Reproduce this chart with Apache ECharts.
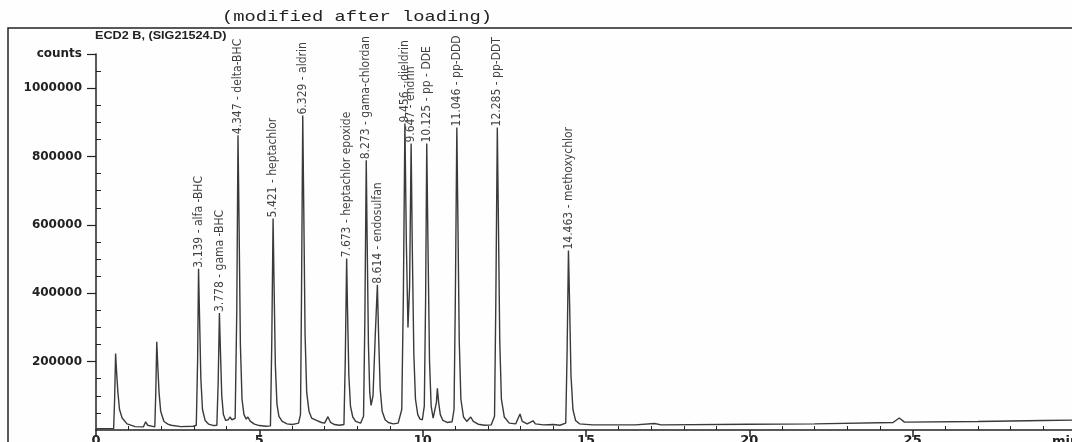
<!DOCTYPE html>
<html>
<head>
<meta charset="utf-8">
<title>ECD2 B chromatogram</title>
<script src="https://cdn.jsdelivr.net/npm/echarts@6/dist/echarts.min.js"></script>
<style>
  html, body { margin: 0; padding: 0; background: #fefefe; }
  #chart { width: 1072px; height: 442px; }
</style>
</head>
<body>
<div id="chart"></div>
<script>
// retention time (min) / counts
const trace = [
  [0, 4000], [0.54, 4000], [0.57, 90000], [0.6, 224000], [0.63, 170000], [0.67, 110000], [0.72, 60000],
  [0.8, 35000], [0.95, 18000], [1.2, 10000], [1.45, 9000], [1.52, 24000], [1.58, 14000], [1.8, 9000],
  [1.83, 110000], [1.86, 258000], [1.89, 190000], [1.93, 110000], [1.98, 55000], [2.08, 25000],
  [2.2, 17000], [2.24, 22000], [2.3, 14000], [2.6, 10000], [2.98, 11000], [3.07, 14000],
  [3.11, 200000], [3.139, 472000], [3.17, 330000], [3.21, 150000], [3.26, 60000], [3.34, 28000],
  [3.45, 17000], [3.6, 13000], [3.7, 14000], [3.74, 140000], [3.778, 342000], [3.81, 230000],
  [3.85, 100000], [3.9, 45000], [3.97, 28000], [4.05, 30000], [4.1, 38000], [4.16, 30000],
  [4.26, 34000], [4.31, 350000], [4.347, 862000], [4.38, 600000], [4.42, 250000], [4.47, 90000],
  [4.53, 45000], [4.6, 32000], [4.65, 38000], [4.72, 26000], [4.85, 17000], [5.0, 13000],
  [5.2, 11000], [5.34, 12000], [5.38, 250000], [5.421, 619000], [5.45, 430000], [5.49, 190000],
  [5.54, 75000], [5.6, 40000], [5.7, 25000], [5.85, 18000], [6.0, 16000], [6.1, 18000],
  [6.2, 20000], [6.26, 45000], [6.29, 380000], [6.329, 920000], [6.36, 650000], [6.4, 280000],
  [6.45, 110000], [6.52, 55000], [6.6, 35000], [6.75, 28000], [6.9, 22000], [7.0, 20000],
  [7.1, 39000], [7.18, 22000], [7.3, 16000], [7.45, 14000], [7.59, 16000], [7.63, 200000],
  [7.673, 502000], [7.7, 350000], [7.74, 160000], [7.79, 70000], [7.86, 38000], [7.95, 25000],
  [8.1, 20000], [8.19, 40000], [8.23, 320000], [8.273, 789000], [8.3, 560000], [8.34, 250000],
  [8.38, 110000], [8.42, 72000], [8.48, 100000], [8.55, 280000], [8.614, 425000], [8.65, 280000],
  [8.7, 120000], [8.76, 55000], [8.85, 30000], [8.95, 22000], [9.1, 18000], [9.25, 20000],
  [9.36, 60000], [9.41, 400000], [9.456, 897000], [9.5, 550000], [9.55, 300000], [9.6, 420000],
  [9.647, 838000], [9.68, 550000], [9.73, 220000], [9.78, 90000], [9.85, 45000], [9.92, 32000],
  [9.99, 30000], [10.05, 70000], [10.09, 380000], [10.125, 838000], [10.16, 560000], [10.21, 200000],
  [10.26, 70000], [10.32, 35000], [10.38, 32000], [10.42, 80000], [10.45, 122000], [10.49, 80000],
  [10.54, 45000], [10.62, 28000], [10.75, 22000], [10.9, 24000], [10.96, 60000], [11.0, 380000],
  [11.046, 885000], [11.08, 600000], [11.12, 260000], [11.17, 90000], [11.25, 38000], [11.35, 25000],
  [11.47, 38000], [11.55, 25000], [11.7, 17000], [11.9, 14000], [12.1, 15000], [12.2, 40000],
  [12.24, 380000], [12.285, 885000], [12.32, 600000], [12.36, 260000], [12.41, 90000], [12.5, 38000],
  [12.65, 20000], [12.85, 18000], [12.98, 47000], [13.05, 25000], [13.2, 18000], [13.38, 27000],
  [13.45, 18000], [13.7, 15000], [14.0, 16000], [14.2, 14000], [14.38, 20000], [14.42, 220000],
  [14.463, 525000], [14.5, 360000], [14.54, 160000], [14.6, 60000], [14.68, 28000], [14.8, 18000],
  [15.2, 15000], [16.5, 15000], [17.1, 19000], [17.3, 15000], [20, 17000], [22, 18000],
  [24.4, 22000], [24.59, 35000], [24.75, 23000], [27, 25000], [29, 28000], [30, 29000]
];

// labelled peaks (apex = where the label starts)
const peakTimes = [3.139, 3.778, 4.347, 5.421, 6.329, 7.673, 8.273, 8.614, 9.456, 9.647, 10.125, 11.046, 12.285, 14.463];
const peakTops = [472000, 342000, 862000, 619000, 920000, 502000, 789000, 425000, 897000, 838000, 838000, 885000, 885000, 525000];
const peakNames = ['alfa -BHC', 'gama -BHC', 'delta-BHC', 'heptachlor', 'aldrin', 'heptachlor epoxide', 'gama-chlordan',
  'endosulfan', 'dieldrin', 'endrin', 'pp - DDE', 'pp-DDD', 'pp-DDT', 'methoxychlor'];

const xLabels = [0, 5, 10, 15, 20, 25];
const xMinor = [1, 2, 3, 4, 6, 7, 8, 9, 11, 12, 13, 14, 16, 17, 18, 19, 21, 22, 23, 24, 26, 27, 28, 29];
const yLabels = [200000, 400000, 600000, 800000, 1000000, 1100000];
const yMinor = [50000, 100000, 150000, 250000, 300000, 350000, 450000, 500000, 550000, 650000, 700000, 750000,
  850000, 900000, 950000, 1050000];

const peaks = peakTimes.map((t, i) => [t, peakTops[i], t.toFixed(3) + ' - ' + peakNames[i]]);

const ink = '#222';
const axisFont = { color: ink, fontFamily: 'DejaVu Sans', fontWeight: 'bold', fontSize: 12 };

const chart = echarts.init(document.getElementById('chart'));

chart.setOption({
  animation: false,
  backgroundColor: '#fefefe',
  grid: { left: 96, right: -4, top: 54, bottom: 12, outerBoundsMode: 'none' },
  graphic: [
    { type: 'rect', shape: { x: 8, y: 28, width: 1080, height: 440 }, style: { fill: 'none', stroke: ink, lineWidth: 1.5 } },
    { type: 'text', x: 222, y: 10, scaleX: 1.25, style: { text: '(modified after loading)', font: '15px "Liberation Mono"', fill: ink } },
    { type: 'text', x: 95, y: 30, scaleX: 1.15, style: { text: 'ECD2 B, (SIG21524.D)', font: 'bold 11px "Liberation Sans"', fill: ink } }
  ],
  xAxis: [
    {
      type: 'value', min: 0, max: 30,
      name: 'min',
      nameLocation: 'end',
      nameGap: -24,
      nameTextStyle: Object.assign({}, axisFont, { fontSize: 13, align: 'left', verticalAlign: 'top', padding: [5, 0, 0, 0] }),
      splitLine: { show: false },
      axisLine: { lineStyle: { color: ink, width: 1.5 } },
      axisTick: { customValues: xLabels, length: 7, lineStyle: { color: ink, width: 1.5 } },
      axisLabel: Object.assign({}, axisFont, { customValues: xLabels, margin: 4, fontSize: 13 })
    },
    {
      type: 'value', min: 0, max: 30,
      splitLine: { show: false },
      axisLine: { show: false },
      axisTick: { customValues: xMinor, length: 4, lineStyle: { color: ink } },
      axisLabel: { show: false }
    }
  ],
  yAxis: [
    {
      type: 'value', min: 0, max: 1100000,
      splitLine: { show: false },
      axisLine: { show: true, lineStyle: { color: ink, width: 1.5 } },
      axisTick: { customValues: yLabels, length: 9, lineStyle: { color: ink, width: 1.2 } },
      axisLabel: Object.assign({}, axisFont, { customValues: yLabels, margin: 14,
        formatter: v => (v === 1100000 ? 'counts' : String(v)) })
    },
    {
      type: 'value', min: 0, max: 1100000,
      splitLine: { show: false },
      axisLine: { show: false },
      axisTick: { customValues: yMinor, length: 5, lineStyle: { color: ink } },
      axisLabel: { show: false }
    }
  ],
  series: [
    {
      type: 'line',
      data: trace,
      symbol: 'none',
      lineStyle: { color: '#3a3a3a', width: 1.4 }
    },
    {
      type: 'scatter',
      data: peaks,
      symbolSize: 0,
      label: {
        show: true,
        position: 'top',
        distance: 1,
        rotate: 90,
        align: 'left',
        verticalAlign: 'middle',
        fontFamily: '"Liberation Sans Narrow", "DejaVu Sans Condensed", "Liberation Sans"',
        fontSize: 12,
        color: '#111',
        formatter: p => p.data[2]
      }
    }
  ]
});
</script>
</body>
</html>
